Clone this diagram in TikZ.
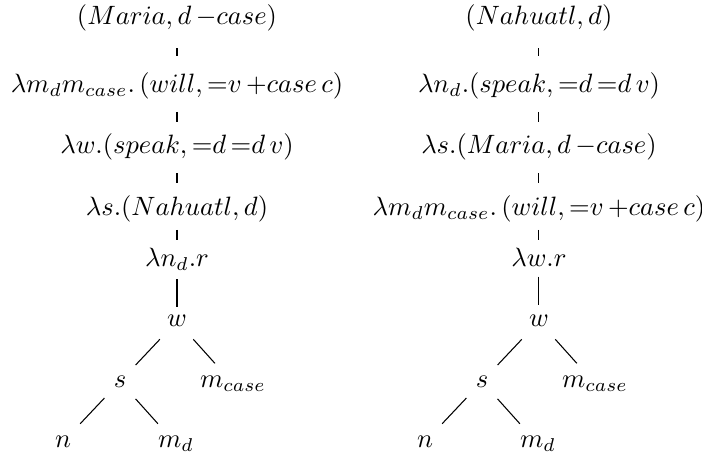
\documentclass[tikz,border=0pt]{standalone}
\begin{document}
\begin{tikzpicture}[every node/.style={anchor=base,inner ysep=4.5pt},
    link/.style={shorten <=#1,shorten >=#1}]
  \useasboundingbox (0,0) rectangle (9.3,-6.0);

  % first derivation
  \begin{scope}[shift={(2.345,-0.33)}]
    \node (L0) at (0,0)     {$(Maria, d\,{-}case)$};
    \node (L1) at (0,-0.9)  {$\lambda m_d m_{case}.\,(will, {=}v\,{+}case\,c)$};
    \node (L2) at (0,-1.71) {$\lambda w.(speak, {=}d\,{=}d\,v)$};
    \node (L3) at (0,-2.52) {$\lambda s.(Nahuatl, d)$};
    \node (L4) at (0,-3.2)  {$\lambda n_d.r$};
    \node (L5) at (0,-4.0)  {$w$};
    \node (Ls) at (-0.755,-4.8) {$s$};
    \node (Lm) at (0.742,-4.8)  {$m_{case}$};
    \node (Ln) at (-1.51,-5.6)  {$n$};
    \node (Ld) at (-0.013,-5.6) {$m_d$};
    \foreach \a/\b/\s in {L0/L1/1.6pt,L1/L2/0pt,L2/L3/0pt,L3/L4/-1.6pt,L4/L5/-1.4pt}
      \draw[link=\s] (\a) -- (\b);
    \foreach \a/\b in {L5/Ls,L5/Lm,Ls/Ln,Ls/Ld}
      \draw (\a) -- (\b);
  \end{scope}

  % second derivation
  \begin{scope}[shift={(7.14,-0.33)}]
    \node (R0) at (0,0)     {$(Nahuatl, d)$};
    \node (R1) at (0,-0.9)  {$\lambda n_d.(speak, {=}d\,{=}d\,v)$};
    \node (R2) at (0,-1.71) {$\lambda s.(Maria, d\,{-}case)$};
    \node (R3) at (0,-2.52) {$\lambda m_d m_{case}.\,(will, {=}v\,{+}case\,c)$};
    \node (R4) at (0,-3.2)  {$\lambda w.r$};
    \node (R5) at (0,-4.0)  {$w$};
    \node (Rs) at (-0.755,-4.8) {$s$};
    \node (Rm) at (0.742,-4.8)  {$m_{case}$};
    \node (Rn) at (-1.51,-5.6)  {$n$};
    \node (Rd) at (-0.013,-5.6) {$m_d$};
    \foreach \a/\b/\s in {R0/R1/1.6pt,R1/R2/0pt,R2/R3/0pt,R3/R4/-1.6pt,R4/R5/-0.9pt}
      \draw[link=\s] (\a) -- (\b);
    \foreach \a/\b in {R5/Rs,R5/Rm,Rs/Rn,Rs/Rd}
      \draw (\a) -- (\b);
  \end{scope}
\end{tikzpicture}
\end{document}
